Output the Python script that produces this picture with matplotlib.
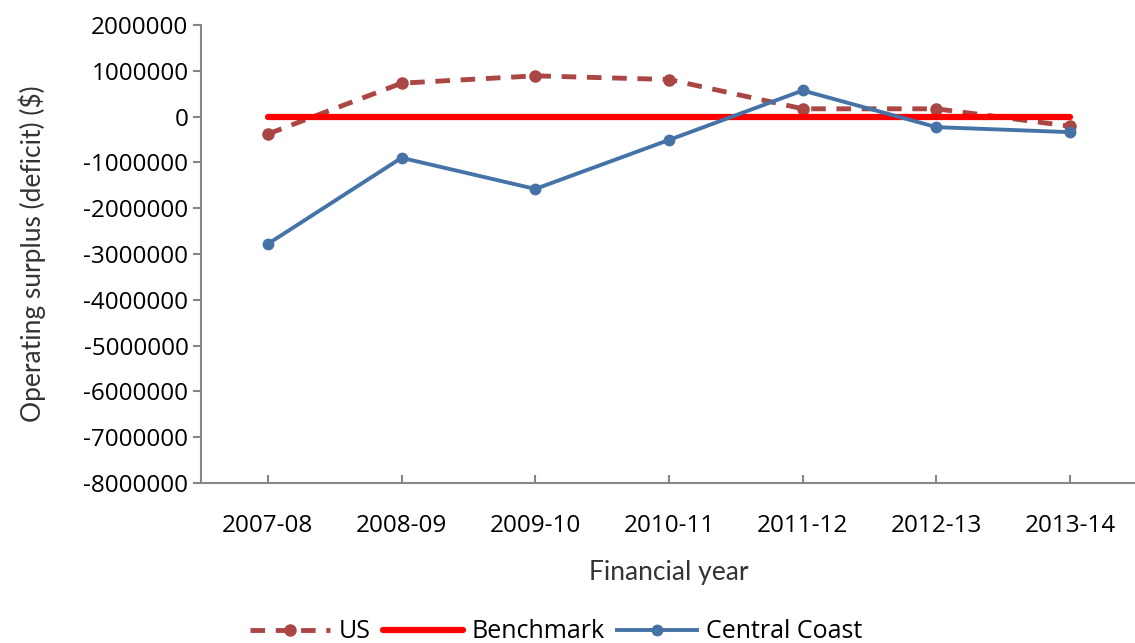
import matplotlib
matplotlib.use("Agg")
import matplotlib.pyplot as plt

# financial years and operating surplus/deficit ($)
years = ["2007-08", "2008-09", "2009-10", "2010-11", "2011-12", "2012-13", "2013-14"]
us = [-380000, 730000, 890000, 810000, 170000, 170000, -210000]
benchmark = [0, 0, 0, 0, 0, 0, 0]
central_coast = [-2780000, -900000, -1580000, -510000, 570000, -230000, -340000]

W, H = 1135, 643
fig = plt.figure(figsize=(W / 100, H / 100), dpi=100)
ax = fig.add_axes([201 / W, 1 - 483 / H, (1137 - 201) / W, (483 - 25) / H])

x = range(len(years))
ax.plot(x, us, color="#AA4643", lw=3.5, ls=(0, (3, 2.2)), marker="o", ms=8, label="US")
ax.plot(x, benchmark, color="#FF0000", lw=4.5, solid_capstyle="round", label="Benchmark")
ax.plot(x, central_coast, color="#4572A7", lw=2.8, marker="o", ms=7.5, label="Central Coast")

ax.set_xlim(-0.5, len(years) - 0.5)
ax.set_ylim(-8000000, 2000000)
ax.set_yticks(range(-8000000, 2000001, 1000000))
ax.set_yticklabels([str(v) for v in range(-8000000, 2000001, 1000000)])
ax.set_xticks(list(x))
ax.set_xticklabels(years)

for lab in ax.get_xticklabels() + ax.get_yticklabels():
    lab.set_fontfamily("Open Sans")
    lab.set_fontsize(17.5)

for s in ["top", "right"]:
    ax.spines[s].set_visible(False)
for s in ["left", "bottom"]:
    ax.spines[s].set_color("#868686")
    ax.spines[s].set_linewidth(1.5)
ax.tick_params(axis="y", direction="out", length=6, width=1.5, color="#868686", pad=3)
ax.tick_params(axis="x", direction="in", length=6, width=1.5, color="#868686", pad=22)

ax.set_ylabel("Operating surplus (deficit) ($)", family="Lato", fontsize=19,
              color="#333333", labelpad=27)
ax.set_xlabel("Financial year", family="Lato", fontsize=19, color="#333333", labelpad=16)

fig.legend(loc="lower center", bbox_to_anchor=(0.49, -0.037), ncol=3, frameon=False,
           prop=dict(family="Open Sans", size=18), handlelength=3.2, columnspacing=0.5,
           handletextpad=0.35)

fig.savefig("out.png", dpi=100)
